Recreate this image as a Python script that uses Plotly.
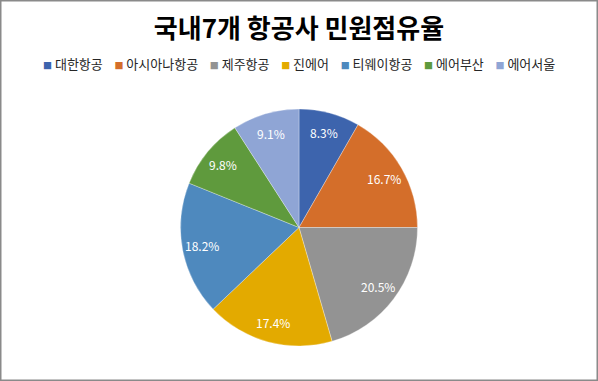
import math
import plotly.graph_objects as go

airlines = ["대한항공", "아시아나항공", "제주항공", "진에어", "티웨이항공", "에어부산", "에어서울"]
shares = [8.3, 16.7, 20.5, 17.4, 18.2, 9.8, 9.1]
colors = ["#3D64AD", "#D46E2A", "#939393", "#E3AA00", "#4E89BE", "#5F9A3D", "#8FA5D5"]

W, H = 598, 381
cx, cy, r = 299, 227.5, 118.5
FONT = "Noto Sans CJK KR"

fig = go.Figure(go.Pie(
    labels=airlines,
    values=shares,
    sort=False,
    direction="clockwise",
    rotation=0,
    marker=dict(colors=colors, line=dict(color="rgba(255,255,255,0.6)", width=0.5)),
    textinfo="none",
    hoverinfo="label+percent",
    showlegend=False,
    domain=dict(x=[(cx - r) / W, (cx + r) / W], y=[1 - (cy + r) / H, 1 - (cy - r) / H]),
))

# data labels at slice mid-angles
annotations = []
total = sum(shares)
cum = 0.0
for v in shares:
    mid = (cum + v / 2) / total * 2 * math.pi
    cum += v
    R = 0.83 * r
    px = cx + R * math.sin(mid)
    py = cy - R * math.cos(mid)
    annotations.append(dict(
        x=px / W, y=1 - py / H, xref="paper", yref="paper",
        text=f"{v:.1f}%", showarrow=False, xanchor="center", yanchor="middle",
        font=dict(color="white", size=12, family=FONT)))

# legend line
nb = "\u00a0"
parts = []
for name, c in zip(airlines, colors):
    parts.append(f'<span style="font-size:9px;fill:{c}">■</span>{nb}{name}')
legend_text = (nb * 4).join(parts)
annotations.append(dict(
    x=0.5, y=1 - 63 / H, xref="paper", yref="paper", text=legend_text,
    showarrow=False, xanchor="center", yanchor="middle",
    font=dict(size=13, color="#262626", family=FONT)))

fig.update_layout(
    width=W, height=H,
    margin=dict(l=0, r=0, t=0, b=0),
    paper_bgcolor="white",
    plot_bgcolor="white",
    title=dict(text="<b>국내7개 항공사 민원점유율</b>", x=0.5, xanchor="center",
               y=1 - 29 / H, yanchor="middle",
               font=dict(size=26, color="#000000", family=FONT)),
    annotations=annotations,
    shapes=[dict(type="rect", xref="paper", yref="paper", x0=0.5 / W, x1=1 - 0.5 / W,
                 y0=0.5 / H, y1=1 - 0.5 / H, line=dict(color="#8A8A8A", width=2))],
)

fig.write_html("out.html")
